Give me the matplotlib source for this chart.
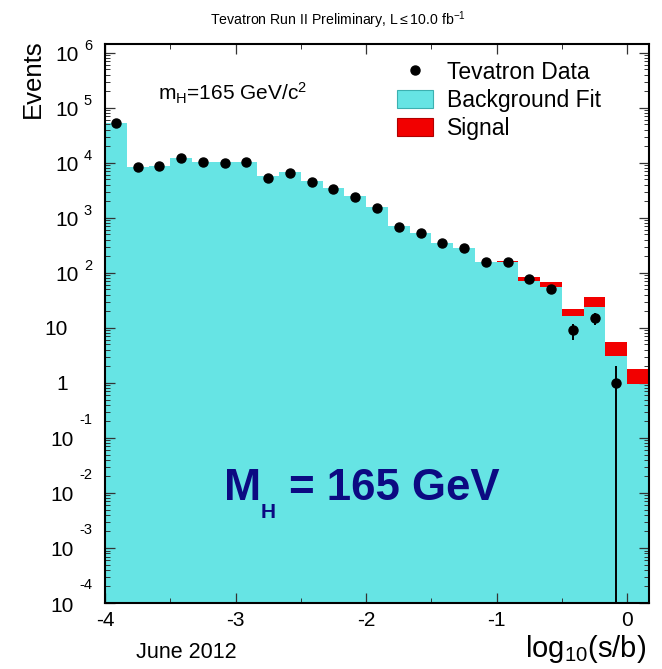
import numpy as np
import matplotlib
matplotlib.use("Agg")
import matplotlib.pyplot as plt
from matplotlib.patches import Patch
from matplotlib.lines import Line2D
from matplotlib.ticker import FixedLocator, NullFormatter
from matplotlib.transforms import blended_transform_factory, offset_copy

plt.rcParams['font.family'] = ['Liberation Sans', 'DejaVu Sans']
plt.rcParams['mathtext.fontset'] = 'custom'
plt.rcParams['mathtext.rm'] = 'Liberation Sans'
plt.rcParams['mathtext.it'] = 'Liberation Sans:italic'
plt.rcParams['mathtext.bf'] = 'Liberation Sans:bold'

# binning in log10(s/b): 25 bins of width 1/6 starting at -4
x_lo = -4.0
bin_width = 1.0 / 6.0
n_bins = 25

data_counts = [53000, 8500, 8700, 12300, 10400, 10000, 10400, 5300, 6600, 4500,
               3400, 2400, 1500, 690, 530, 350, 283, 158, 158, 78,
               51, 9, 15, 1, 0]
background = [54000, 8600, 8800, 12500, 10500, 10200, 10500, 5700, 6800, 4600,
              3500, 2500, 1550, 700, 540, 355, 285, 160, 160, 72,
              56, 16.6, 24, 3.1, 0.95]
signal = [2, 0.5, 0.6, 1, 1, 1.2, 1.4, 1, 1.3, 1.1,
          1, 0.8, 0.6, 0.4, 0.4, 1, 3, 1, 5, 11,
          12, 5.7, 12, 2.5, 0.88]

decades = list(range(-4, 7))

W, H = 662, 669
CYAN = '#66e4e4'
RED = '#f20000'
NAVY = '#0c0a82'

edges = x_lo + bin_width * np.arange(n_bins + 1)
centers = 0.5 * (edges[:-1] + edges[1:])
bkg = np.array(background, dtype=float)
sig = np.array(signal, dtype=float)
obs = np.array(data_counts, dtype=float)

fig = plt.figure(figsize=(W / 100, H / 100), dpi=100)
ax = fig.add_axes([105 / W, 1 - 603 / H, (649 - 105) / W, (603 - 44) / H])
ax.set_yscale('log')
ax.set_xlim(edges[0], edges[-1])
ax.set_ylim(1e-4, 1.45e6)

ymin = 1e-4
ax.stairs(bkg, edges, baseline=ymin, fill=True, color=CYAN, zorder=1)
ax.stairs(bkg + sig, edges, baseline=bkg, fill=True, color=RED, zorder=2)

# data points with sqrt(N) errors, empty bins skipped
has = obs > 0
err = np.sqrt(obs[has])
ax.errorbar(centers[has], obs[has], yerr=err, fmt='o', color='black',
            ms=6.5, elinewidth=1.4, capsize=0, zorder=5)

# ROOT-like frame and ticks
for s in ax.spines.values():
    s.set_linewidth(1.5)
    s.set_zorder(10)
ax.xaxis.set_major_locator(FixedLocator([-4, -3, -2, -1, 0]))
ax.xaxis.set_minor_locator(FixedLocator([-3.5, -2.5, -1.5, -0.5]))
minor_y = [m * 10.0 ** k for k in range(-4, 7) for m in range(2, 10)]
ax.yaxis.set_major_locator(FixedLocator([10.0 ** k for k in decades]))
ax.yaxis.set_minor_locator(FixedLocator(minor_y))
ax.yaxis.set_major_formatter(NullFormatter())
ax.yaxis.set_minor_formatter(NullFormatter())
ax.set_xticklabels(['-4', '-3', '-2', '-1', '0'])
ax.tick_params(which='both', direction='in', top=True, right=True,
               color='#333333', zorder=10)
ax.tick_params(which='major', length=7, width=0.9, labelsize=15, pad=6)
ax.tick_params(which='minor', length=3.5, width=0.7)
for t in ax.get_xticklines() + ax.get_yticklines():
    t.set_zorder(10)

# y labels written as "10" plus a raised exponent
renderer = fig.canvas.get_renderer()
ty = blended_transform_factory(ax.transAxes, ax.transData)
for k in decades:
    v = 10.0 ** k
    if k in (0, 1):
        ax.text(0, v, '1' if k == 0 else '10', fontsize=15, ha='right', va='center',
                transform=offset_copy(ty, fig, x=-37, y=-2, units='dots'))
        continue
    raise_px = 7 if k > 0 else 18
    e = ax.text(0, v, str(k), fontsize=10.5, ha='right', va='center',
                transform=offset_copy(ty, fig, x=-13, y=raise_px, units='dots'))
    w = e.get_window_extent(renderer).width
    ax.text(0, v, '10', fontsize=15, ha='right', va='center',
            transform=offset_copy(ty, fig, x=-13 - w - 5, y=-3, units='dots'))


def fx(px):
    return px / W


def fy(py):
    return 1 - py / H


fig.text(fx(338), fy(20), r'Tevatron Run II Preliminary, L$\leq$10.0 fb$^{-1}$',
         fontsize=10.2, ha='center', va='center')
fig.text(fx(33), fy(39), 'Events', fontsize=18.5, rotation=90, ha='center', va='top')
fig.text(fx(646), fy(657), r'log$_{10}$(s/b)', fontsize=21, ha='right', va='baseline')
fig.text(fx(186), fy(652), 'June 2012', fontsize=15.5, ha='center', va='center')
fig.text(fx(158), fy(93), r'm$_{\mathrm{H}}$=165 GeV/c$^{2}$', fontsize=15,
         ha='left', va='center')

# big mass label
fig.text(fx(224), fy(500), 'M', fontsize=32, fontweight='bold', color=NAVY,
         ha='left', va='baseline')
fig.text(fx(261), fy(518), 'H', fontsize=15, fontweight='bold', color=NAVY,
         ha='left', va='baseline')
fig.text(fx(289), fy(500), '= 165 GeV', fontsize=31.5, fontweight='bold', color=NAVY,
         ha='left', va='baseline')

handles = [
    Line2D([], [], marker='o', ls='none', color='black', ms=6.5),
    Patch(facecolor=CYAN, edgecolor='#3cb0b0', lw=0.8),
    Patch(facecolor=RED, edgecolor='#b00000', lw=0.8),
]
ax.legend(handles, ['Tevatron Data', 'Background Fit', 'Signal'],
          loc='upper left', bbox_to_anchor=(fx(397), fy(61)), bbox_transform=fig.transFigure,
          frameon=False, fontsize=16.5, borderpad=0, borderaxespad=0,
          handlelength=1.55, handleheight=0.85, handletextpad=0.65, labelspacing=0.22)

fig.savefig('out.png', dpi=100)
